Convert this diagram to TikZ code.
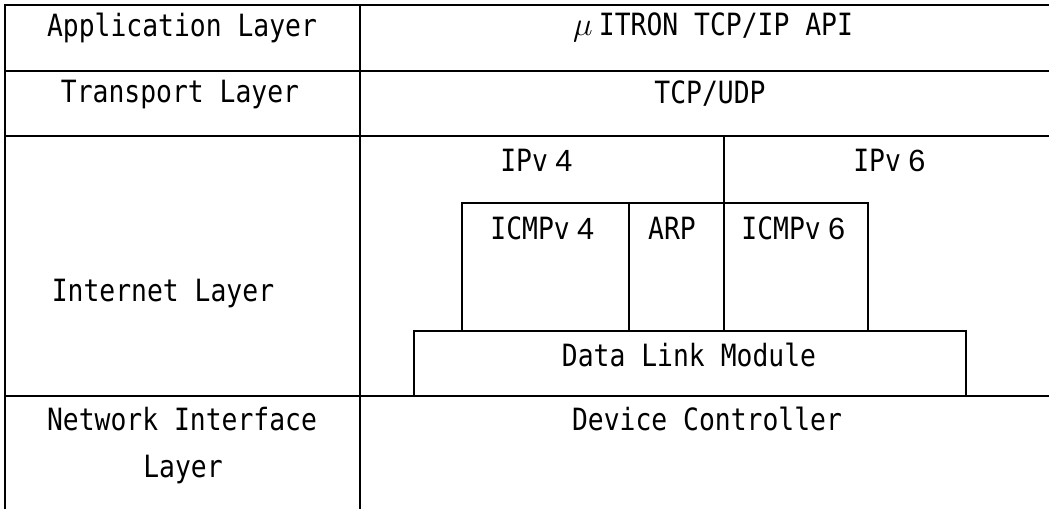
\documentclass[tikz,border=0pt]{standalone}
\usepackage{fontspec}
\setmainfont[FakeStretch=0.86]{DejaVu Sans Mono}
\newfontfamily\digitfont{Liberation Sans}
% a full-width character cell (two half-width cells)
\newcommand\widecell[1]{\makebox[23.85pt]{#1}}
\tikzset{
  rule/.style={line width=1.6pt, line cap=rect},
  lbl/.style={anchor=base, inner sep=0pt, font=\fontsize{23pt}{27pt}\selectfont},
}
\begin{document}
\begin{tikzpicture}[x=0.75pt, y=-0.75pt]
  \useasboundingbox (0,0) rectangle (1049,508);
  \clip (0,0) rectangle (1049,508);

  % table frame and row rules
  \draw[rule] (5,5) -- (1060,5);
  \draw[rule] (5,71) -- (1060,71);
  \draw[rule] (5,136) -- (1060,136);
  \draw[rule] (5,396) -- (1060,396);
  \draw[rule] (5,5) -- (5,520);
  \draw[rule] (360,5) -- (360,520);

  % IPv4 / IPv6 split
  \draw[rule] (724,136) -- (724,203);

  % protocol boxes inside the internet layer
  \draw[rule] (462,331) -- (462,203) -- (868,203) -- (868,331);
  \draw[rule] (629,203) -- (629,331);
  \draw[rule] (724,203) -- (724,331);
  \draw[rule] (414,331) rectangle (966,396);

  % layer names
  \node[lbl] (app)   at (182,36)  {Application Layer};
  \node[lbl] (trans) at (180,102) {Transport Layer};
  \node[lbl] (inet)  at (163,301) {Internet Layer};
  \node[lbl] (nif)   at (182,430) {Network Interface};
  \node[lbl] (nifb)  at (183,477) {Layer};

  % module names
  \node[lbl] (api)   at (710,35)  {\widecell{\fontsize{25pt}{27pt}\selectfont$\mu$}ITRON TCP/IP API};
  \node[lbl] (tcp)   at (710,103) {TCP/UDP};
  \node[lbl] (ipf)   at (540,171) {IPv\widecell{\digitfont 4}};
  \node[lbl] (ips)   at (893,171) {IPv\widecell{\digitfont 6}};
  \node[lbl] (icmpf) at (546,239) {ICMPv\widecell{\digitfont 4}};
  \node[lbl] (arp)   at (672,239) {ARP};
  \node[lbl] (icmps) at (797,239) {ICMPv\widecell{\digitfont 6}};
  \node[lbl] (dlm)   at (689,366) {Data Link Module};
  \node[lbl] (dev)   at (707,430) {Device Controller};
\end{tikzpicture}
\end{document}
